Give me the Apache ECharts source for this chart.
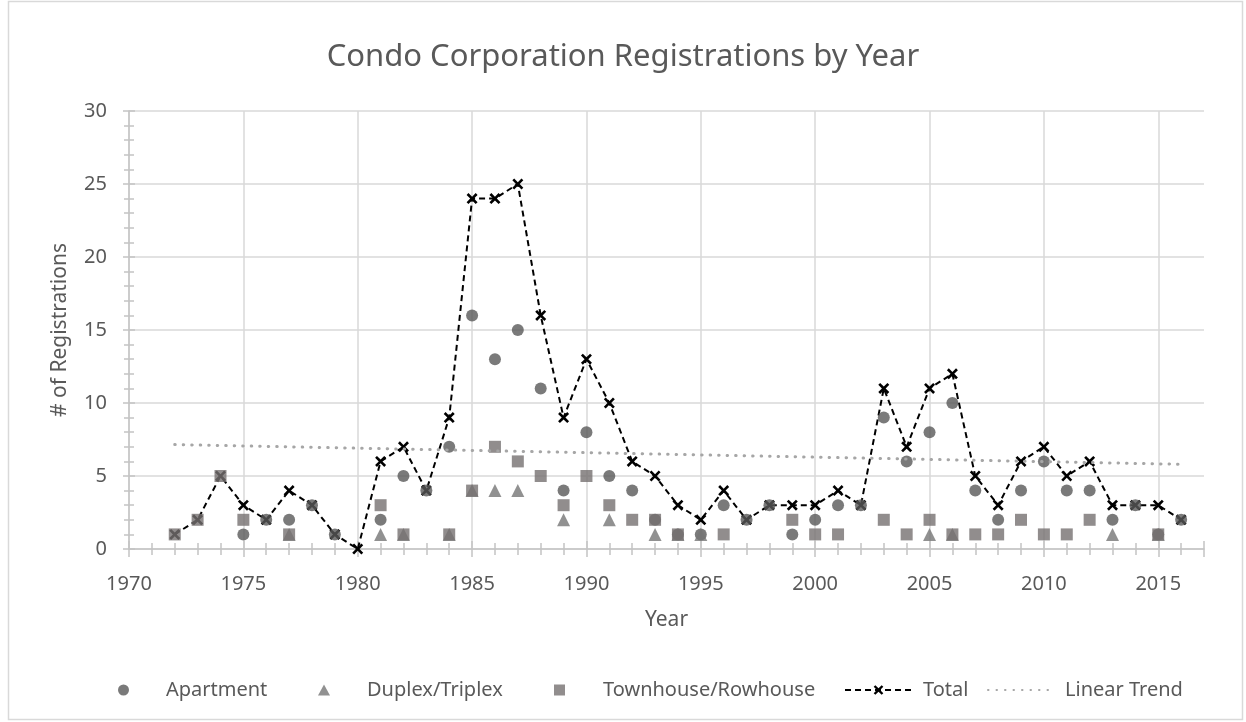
<!DOCTYPE html>
<html>
<head>
<meta charset="utf-8">
<title>Condo Corporation Registrations by Year</title>
<script src="https://cdn.jsdelivr.net/npm/echarts@6/dist/echarts.min.js"></script>
<style>
  html, body { margin: 0; padding: 0; background: #fff; }
  #chart { width: 1246px; height: 722px; }
</style>
</head>
<body>
<div id="chart"></div>
<script>
// values, one entry per year (null = no marker)
const years = [1972, 1973, 1974, 1975, 1976, 1977, 1978, 1979, 1980, 1981,
  1982, 1983, 1984, 1985, 1986, 1987, 1988, 1989, 1990, 1991,
  1992, 1993, 1994, 1995, 1996, 1997, 1998, 1999, 2000, 2001,
  2002, 2003, 2004, 2005, 2006, 2007, 2008, 2009, 2010, 2011,
  2012, 2013, 2014, 2015, 2016];
const apartment = [null, null, null, 1, 2, 2, 3, 1, null, 2,
  5, 4, 7, 16, 13, 15, 11, 4, 8, 5,
  4, 2, 1, 1, 3, 2, 3, 1, 2, 3,
  3, 9, 6, 8, 10, 4, 2, 4, 6, 4,
  4, 2, 3, 1, 2];
const duplex = [null, null, null, null, null, 1, null, null, null, 1,
  1, null, 1, 4, 4, 4, null, 2, null, 2,
  null, 1, 1, 1, null, null, null, null, null, null,
  null, null, null, 1, 1, null, null, null, null, null,
  null, 1, null, 1, null];
const townhouse = [1, 2, 5, 2, null, 1, null, null, null, 3,
  1, null, 1, 4, 7, 6, 5, 3, 5, 3,
  2, 2, 1, null, 1, null, null, 2, 1, 1,
  null, 2, 1, 2, 1, 1, 1, 2, 1, 1,
  2, null, null, 1, null];
const total = [1, 2, 5, 3, 2, 4, 3, 1, 0, 6,
  7, 4, 9, 24, 24, 25, 16, 9, 13, 10,
  6, 5, 3, 2, 4, 2, 3, 3, 3, 4,
  3, 11, 7, 11, 12, 5, 3, 6, 7, 5,
  6, 3, 3, 3, 2];
// linear trend end points
const trendYears = [1972, 2016];
const trendValues = [7.15, 5.8];

const textColor = '#595959';
const gridColor = '#d9d9d9';
const axisColor = '#c4c4c4';
const trendColor = '#a6a6a6';
const fontFamily = '"Noto Sans", sans-serif';
const xMarker = 'path://M0,1.7L1.7,0L5,3.3L8.3,0L10,1.7L6.7,5L10,8.3L8.3,10L5,6.7L1.7,10L0,8.3L3.3,5Z';

function pairs(xs, ys) {
  let data = [];
  for (let i = 0; i < xs.length; i++) {
    if (ys[i] !== null) data.push([xs[i], ys[i]]);
  }
  return data;
}

// main axis draws ticks outside, the twin draws them inside -> "cross" ticks like Excel
function xAxes() {
  const base = { type: 'value', min: 1970, max: 2017, interval: 5 };
  return [
    Object.assign({}, base, {
      position: 'bottom',
      name: 'Year',
      nameLocation: 'middle',
      nameGap: 61,
      nameTextStyle: { color: textColor, fontSize: 21, fontFamily },
      axisLine: { show: true, lineStyle: { color: axisColor, width: 1.5 } },
      axisTick: { show: true, length: 8, lineStyle: { color: axisColor, width: 1.5 } },
      minorTick: { show: true, splitNumber: 5, length: 6, lineStyle: { color: axisColor, width: 1.5 } },
      axisLabel: {
        color: textColor, fontSize: 20, fontFamily, margin: 25, showMaxLabel: false,
        formatter: value => String(value),
      },
      splitLine: { show: true, showMaxLine: false, lineStyle: { color: gridColor, width: 1.5 } },
    }),
    Object.assign({}, base, {
      position: 'bottom',
      axisLine: { show: false },
      axisTick: { show: true, inside: true, length: 8, lineStyle: { color: axisColor, width: 1.5 } },
      minorTick: { show: true, splitNumber: 5, length: 6, lineStyle: { color: axisColor, width: 1.5 } },
      axisLabel: { show: false },
      splitLine: { show: false },
    }),
  ];
}

function yAxes() {
  const base = { type: 'value', min: 0, max: 30, interval: 5 };
  return [
    Object.assign({}, base, {
      position: 'left',
      name: '# of Registrations',
      nameLocation: 'middle',
      nameGap: 58,
      nameTextStyle: { color: textColor, fontSize: 21, fontFamily },
      axisLine: { show: true, lineStyle: { color: axisColor, width: 1.5 } },
      axisTick: { show: true, length: 6, lineStyle: { color: axisColor, width: 1.5 } },
      minorTick: { show: true, splitNumber: 5, length: 5, lineStyle: { color: axisColor, width: 1.5 } },
      axisLabel: { color: textColor, fontSize: 20, fontFamily, margin: 22 },
      splitLine: { show: true, lineStyle: { color: gridColor, width: 1.5 } },
    }),
    Object.assign({}, base, {
      position: 'left',
      axisLine: { show: false },
      axisTick: { show: true, inside: true, length: 6, lineStyle: { color: axisColor, width: 1.5 } },
      minorTick: { show: true, splitNumber: 5, length: 5, lineStyle: { color: axisColor, width: 1.5 } },
      axisLabel: { show: false },
      splitLine: { show: false },
    }),
  ];
}

// one legend per entry so each icon/text can sit where Excel put it
function legendItem(name, left, iconWidth, textPad, extra) {
  return Object.assign({
    left: left,
    top: 680,
    padding: 0,
    itemWidth: iconWidth,
    itemHeight: 11,
    textStyle: { color: textColor, fontSize: 20, fontFamily, padding: [0, 0, 0, textPad] },
    data: [name],
  }, extra || {});
}

function createChart() {
  let chart = echarts.init(document.getElementById('chart'), null, { renderer: 'canvas' });
  chart.setOption({
    animation: false,
    backgroundColor: '#fff',
    graphic: [{
      type: 'rect',
      shape: { x: 8.5, y: 1.5, width: 1234, height: 718 },
      style: { fill: 'none', stroke: '#d9d9d9', lineWidth: 1.5 },
      silent: true,
    }],
    title: {
      text: 'Condo Corporation Registrations by Year',
      left: 'center',
      top: 37,
      textStyle: { color: textColor, fontSize: 31, fontWeight: 'normal', fontFamily },
    },
    legend: [
      legendItem('Apartment', 118, 11, 32),
      legendItem('Duplex/Triplex', 318, 12, 32),
      legendItem('Townhouse/Rowhouse', 554, 11, 33),
      legendItem('Total', 844, 67, 6, { itemHeight: 12 }),
      legendItem('Linear Trend', 987, 66, 6, {
        data: [{ name: 'Linear Trend', itemStyle: { color: 'rgba(0,0,0,0)', opacity: 0 } }],
      }),
    ],
    grid: { left: 129, right: 42, top: 111, bottom: 173 },
    xAxis: xAxes(),
    yAxis: yAxes(),
    series: [
      {
        name: 'Apartment',
        type: 'scatter',
        symbol: 'circle',
        symbolSize: 12,
        itemStyle: { color: '#595959' },
        z: 3,
        data: pairs(years, apartment),
      },
      {
        name: 'Duplex/Triplex',
        type: 'scatter',
        symbol: 'triangle',
        symbolSize: 13,
        itemStyle: { color: '#767676' },
        z: 4,
        data: pairs(years, duplex),
      },
      {
        name: 'Townhouse/Rowhouse',
        type: 'scatter',
        symbol: 'rect',
        symbolSize: 12,
        itemStyle: { color: '#767171' },
        z: 5,
        data: pairs(years, townhouse),
      },
      {
        name: 'Total',
        type: 'line',
        symbol: xMarker,
        symbolSize: 11,
        showAllSymbol: true,
        itemStyle: { color: '#000' },
        lineStyle: { color: '#000', width: 2, type: [6, 4] },
        z: 2,
        data: pairs(years, total),
      },
      {
        name: 'Linear Trend',
        type: 'line',
        symbol: 'none',
        itemStyle: { color: trendColor },
        lineStyle: { color: trendColor, width: 3, type: [0.5, 8], cap: 'round' },
        z: 6,
        data: pairs(trendYears, trendValues),
      },
    ],
  });
  return chart;
}

createChart();
</script>
</body>
</html>
